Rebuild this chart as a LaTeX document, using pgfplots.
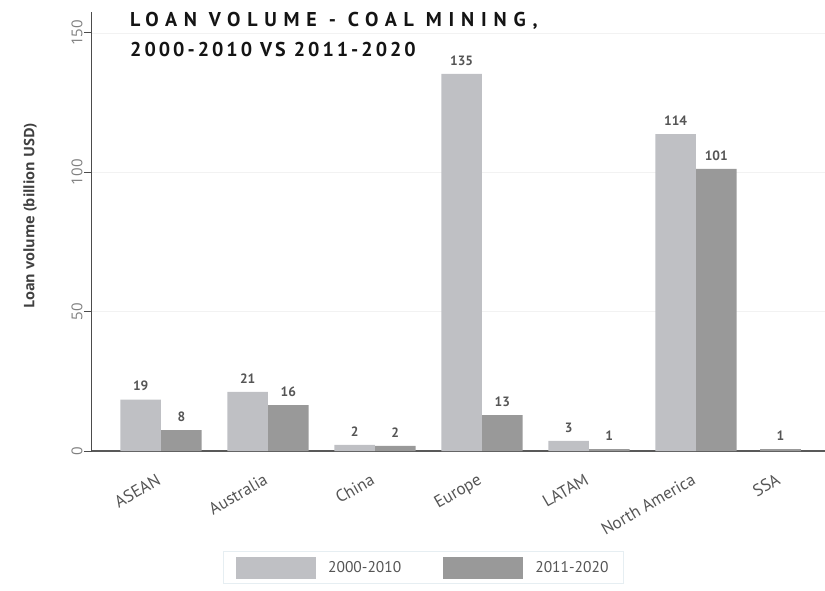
\documentclass[border=0pt]{standalone}
\usepackage{fontspec}
\setmainfont{PT Sans}
\newfontfamily\opensans{Open Sans}
\usepackage{pgfplots}
\pgfplotsset{compat=1.18}
\definecolor{lightbar}{HTML}{BFC0C4}
\definecolor{darkbar}{HTML}{999999}
\definecolor{txt}{HTML}{555555}
\definecolor{lgborder}{HTML}{E6EEF2}
\begin{document}
\begin{tikzpicture}[x=1pt,y=1pt]
\useasboundingbox (0,0) rectangle (825,590);
\begin{axis}[
  at={(92pt,139pt)}, anchor=south west,
  scale only axis, width=733pt, height=439pt,
  xmin=-0.645, xmax=6.206, ymin=0, ymax=157.5,
  axis x line*=bottom, axis y line*=left,
  axis line style={-},
  x axis line style={draw=black!65, line width=1.3pt},
  y axis line style={draw=black!70, line width=1pt},
  /pgf/number format/assume math mode=true,
  xtick={0,1,2,3,4,5,5.79},
  xticklabels={ASEAN,Australia,China,Europe,LATAM,North America,SSA},
  x tick label style={yshift=-9pt, xshift=-4pt, rotate=30, anchor=north east, font=\fontsize{17}{19}\selectfont, text=txt},
  major x tick style={draw=none},
  ytick={0,50,100,150},
  yticklabel shift=-2pt,
  y tick label style={rotate=90, anchor=south, font=\opensans\fontsize{15}{17}\selectfont, text=black!50},
  tick align=outside, major tick length=8pt,
  major y tick style={draw=black!70, line width=1pt},
  ymajorgrids, major grid style={draw=black!5, line width=0.8pt},
  ylabel={Loan volume (billion USD)},
  ylabel style={at={(axis description cs:-0.0846,0.535)}, anchor=center, font=\opensans\bfseries\fontsize{14.5}{16}\selectfont, text=black!75},
  ybar, bar width=0.379, bar shift=0pt,
  nodes near coords, point meta=explicit symbolic,
  every node near coord/.append style={font=\bfseries\fontsize{13.5}{15}\selectfont, text=txt, yshift=5pt},
  legend image code/.code={\fill[#1] (0pt,-11pt) rectangle (80pt,11pt);},
  legend style={at={(axis description cs:0.452,-0.2654)}, anchor=center, draw=lgborder, line width=1pt,
    font=\fontsize{15.5}{18}\selectfont, text=txt, legend columns=2, inner xsep=13pt, inner ysep=5pt,
    /tikz/every odd column/.append style={column sep=10pt},
    /tikz/every even column/.append style={column sep=40pt}},
]
\addplot[fill=lightbar, draw=none] coordinates {
  (-0.19,18.4) [19]
  (0.81,21.2) [21]
  (1.81,2.2) [2]
  (2.81,135.3) [135]
  (3.81,3.6) [3]
  (4.81,113.7) [114]
};
\addlegendentry{2000-2010}
\addplot[fill=darkbar, draw=none] coordinates {
  (0.19,7.5) [8]
  (1.19,16.5) [16]
  (2.19,1.8) [2]
  (3.19,12.9) [13]
  (4.19,0.7) [1]
  (5.19,101.2) [101]
  (5.79,0.7) [1]
};
\addlegendentry{2011-2020}
\end{axis}
\node[anchor=base west, inner sep=0pt, font=\bfseries\fontsize{20}{24}\selectfont\addfontfeature{LetterSpace=34}, text=black!92] at (130,563) {LOAN VOLUME - COAL MINING,};
\node[anchor=base west, inner sep=0pt, font=\bfseries\fontsize{20}{24}\selectfont\addfontfeature{LetterSpace=15}, text=black!92] at (130,533) {2000-2010 VS 2011-2020};
\end{tikzpicture}
\end{document}
